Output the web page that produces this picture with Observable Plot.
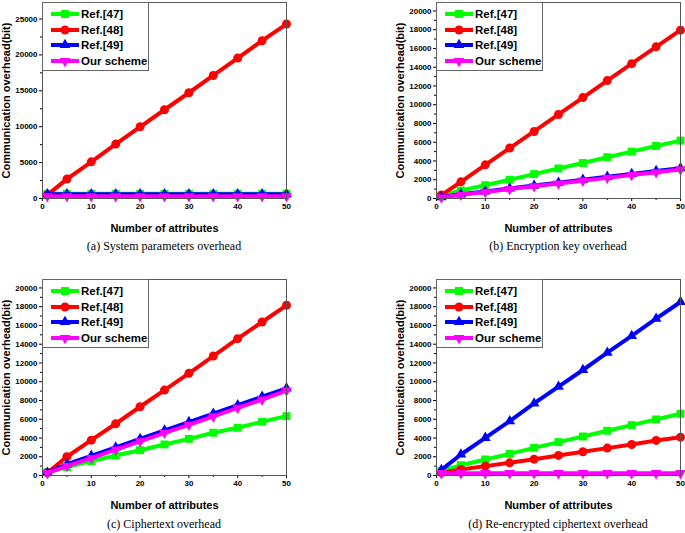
<!DOCTYPE html>
<html><head><meta charset="utf-8">
<script src="https://cdn.jsdelivr.net/npm/d3@7"></script>
<script src="https://cdn.jsdelivr.net/npm/@observablehq/plot@0.6"></script>
<style>
body{margin:0;background:#fff;}
#wrap{position:relative;width:685px;height:533px;overflow:hidden;font-family:"Liberation Sans",Arial,sans-serif;}
.panel{position:absolute;}
.caption{position:absolute;width:343px;text-align:center;font-family:"Liberation Serif","Times New Roman",serif;font-size:12px;line-height:14px;color:#000;}
.legend{position:absolute;width:105px;height:67px;border:1px solid #666;background:#fff;box-sizing:content-box;}
.legrow{position:absolute;left:0;height:16px;width:105px;font-size:11.5px;font-weight:bold;line-height:16px;color:#000;white-space:nowrap;}
.legrow svg{position:absolute;left:8px;top:0;}
.legrow span{position:absolute;left:38px;top:0;}
g[aria-label="x-axis label"], g[aria-label="y-axis label"]{font-size:11px !important;font-weight:bold;}
g[aria-label="x-axis label"] text, g[aria-label="y-axis label"] text{font-size:11px !important;}
</style>
</head><body>
<div id="wrap"></div>
<script>
// ---------- data ----------
const attrs = [1, 5, 10, 15, 20, 25, 30, 35, 40, 45, 50];
const seriesNames = ["Ref.[47]", "Ref.[48]", "Ref.[49]", "Our scheme"];
const seriesColors = ["#00ff00", "#ff0000", "#0000ff", "#ff00ff"];
const seriesSymbols = ["square", "circle", "triangle", "triangle"];
const seriesRotate = [0, 0, 0, 180];

// (a) System parameters overhead
const sysRef47 = [650, 650, 650, 650, 650, 650, 650, 650, 650, 650, 650];
const sysRef48 = [500, 2700, 5110, 7580, 9990, 12360, 14730, 17140, 19560, 21980, 24300];
const sysRef49 = [600, 600, 600, 600, 600, 600, 600, 600, 600, 600, 600];
const sysOur   = [300, 300, 300, 300, 300, 300, 300, 300, 300, 300, 300];

// (b) Encryption key overhead
const keyRef47 = [300, 850, 1420, 2000, 2600, 3200, 3780, 4400, 5000, 5600, 6170];
const keyRef48 = [360, 1780, 3590, 5380, 7150, 8960, 10760, 12570, 14380, 16170, 17950];
const keyRef49 = [150, 450, 760, 1070, 1380, 1690, 2000, 2310, 2620, 2930, 3240];
const keyOur   = [100, 400, 700, 1000, 1300, 1600, 1900, 2200, 2500, 2800, 3100];

// (c) Ciphertext overhead
const ctRef47 = [350, 890, 1530, 2140, 2700, 3310, 3910, 4560, 5090, 5730, 6330];
const ctRef48 = [300, 2000, 3770, 5520, 7330, 9110, 10890, 12740, 14590, 16370, 18150];
const ctRef49 = [300, 1200, 2100, 3000, 3900, 4800, 5700, 6600, 7500, 8400, 9300];
const ctOur   = [250, 1000, 1850, 2750, 3650, 4550, 5400, 6300, 7200, 8100, 9050];

// (d) Re-encrypted ciphertext overhead
const reRef47 = [500, 1100, 1710, 2310, 2950, 3560, 4160, 4770, 5370, 5980, 6580];
const reRef48 = [300, 640, 1000, 1350, 1740, 2140, 2530, 2920, 3310, 3740, 4090];
const reRef49 = [600, 2240, 4020, 5800, 7690, 9470, 11250, 13100, 14880, 16730, 18500];
const reOur   = [250, 250, 250, 250, 250, 250, 250, 250, 250, 250, 250];

const xTicks = [0, 10, 20, 30, 40, 50];
const xMinorTicks = [5, 15, 25, 35, 45];
const yTicksA = [0, 5000, 10000, 15000, 20000, 25000];
const yMinorA = [2500, 7500, 12500, 17500, 22500];
const yTicksB = [0, 2000, 4000, 6000, 8000, 10000, 12000, 14000, 16000, 18000, 20000];
const yMinorB = [1000, 3000, 5000, 7000, 9000, 11000, 13000, 15000, 17000, 19000];
const xLabel = "Number of attributes";
const yLabel = "Communication overhead(bit)";
const captions = ["(a) System parameters overhead", "(b) Encryption key overhead",
                  "(c) Ciphertext overhead", "(d) Re-encrypted ciphertext overhead"];

// ---------- drawing ----------
const wrap = document.getElementById("wrap");

function makePanel(values, yTop, yTicks, yMinor, width, mL, mR) {
  const marks = [
    Plot.axisX({ticks: xTicks, tickSize: 3, tickPadding: 2, tickFormat: "d",
      label: xLabel, labelAnchor: "center", labelArrow: "none", labelOffset: 33}),
    Plot.axisX({ticks: xMinorTicks, tickSize: 2, text: null, label: null}),
    Plot.axisY({ticks: yTicks, tickSize: 3, tickPadding: 2, tickFormat: "d",
      label: yLabel, labelAnchor: "center", labelArrow: "none", labelOffset: 40}),
    Plot.axisY({ticks: yMinor, tickSize: 2, text: null, label: null})
  ];
  values.forEach((vals, i) => {
    const rows = attrs.map((x, j) => ({x, y: vals[j]}));
    marks.push(Plot.line(rows, {x: "x", y: "y", stroke: seriesColors[i], strokeWidth: 4}));
    marks.push(Plot.dot(rows, {x: "x", y: "y", fill: seriesColors[i], stroke: "none",
      r: seriesSymbols[i] === "triangle" ? 4 : 4.5,
      symbol: seriesSymbols[i], rotate: seriesRotate[i]}));
  });
  marks.push(Plot.frame({stroke: "#555"}));
  return Plot.plot({
    width, height: 240,
    marginTop: 2, marginBottom: 42, marginLeft: mL, marginRight: mR,
    x: {domain: [0, 50]},
    y: {domain: [0, yTop]},
    style: {fontFamily: "'Liberation Sans', Arial, sans-serif", fontSize: "8px", fontWeight: "bold",
            color: "#000", background: "transparent", overflow: "visible"},
    marks
  });
}

function makeLegend(left, top) {
  const box = document.createElement("div");
  box.className = "legend";
  box.style.left = left + "px";
  box.style.top = top + "px";
  seriesNames.forEach((name, i) => {
    const row = document.createElement("div");
    row.className = "legrow";
    row.style.top = (3 + i * 15.7) + "px";
    const sym = d3.symbol(i === 0 ? d3.symbolSquare : i === 1 ? d3.symbolCircle : d3.symbolTriangle, i >= 2 ? 50 : 64)();
    row.innerHTML = `<svg width="28" height="16"><line x1="0" x2="28" y1="8" y2="8" stroke="${seriesColors[i]}" stroke-width="4"/>` +
      `<path d="${sym}" fill="${seriesColors[i]}" transform="translate(14,8) rotate(${seriesRotate[i]})"/></svg><span>${name}</span>`;
    box.appendChild(row);
  });
  wrap.appendChild(box);
}

const panels = [
  {vals: [sysRef47, sysRef48, sysRef49, sysOur], yTop: 27300, yt: yTicksA, ym: yMinorA, left: 0, top: 0, w: 343, mL: 42, mR: 57},
  {vals: [keyRef47, keyRef48, keyRef49, keyOur], yTop: 20900, yt: yTicksB, ym: yMinorB, left: 343, top: 0, w: 342, mL: 93, mR: 5},
  {vals: [ctRef47, ctRef48, ctRef49, ctOur], yTop: 20900, yt: yTicksB, ym: yMinorB, left: 0, top: 277, w: 343, mL: 42, mR: 57},
  {vals: [reRef47, reRef48, reRef49, reOur], yTop: 20900, yt: yTicksB, ym: yMinorB, left: 343, top: 277, w: 342, mL: 93, mR: 5}
];
const captionTops = [239, 239, 517, 517];

panels.forEach((p, k) => {
  const div = document.createElement("div");
  div.className = "panel";
  div.style.left = p.left + "px";
  div.style.top = p.top + "px";
  div.appendChild(makePanel(p.vals, p.yTop, p.yt, p.ym, p.w, p.mL, p.mR));
  wrap.appendChild(div);
  makeLegend(p.left + p.mL, p.top + 2);
  const cap = document.createElement("div");
  cap.className = "caption";
  cap.style.left = (p.left + (p.mL + (p.w - p.mR)) / 2 - 171.5) + "px";
  cap.style.top = captionTops[k] + "px";
  cap.textContent = captions[k];
  wrap.appendChild(cap);
});
</script>
</body></html>
